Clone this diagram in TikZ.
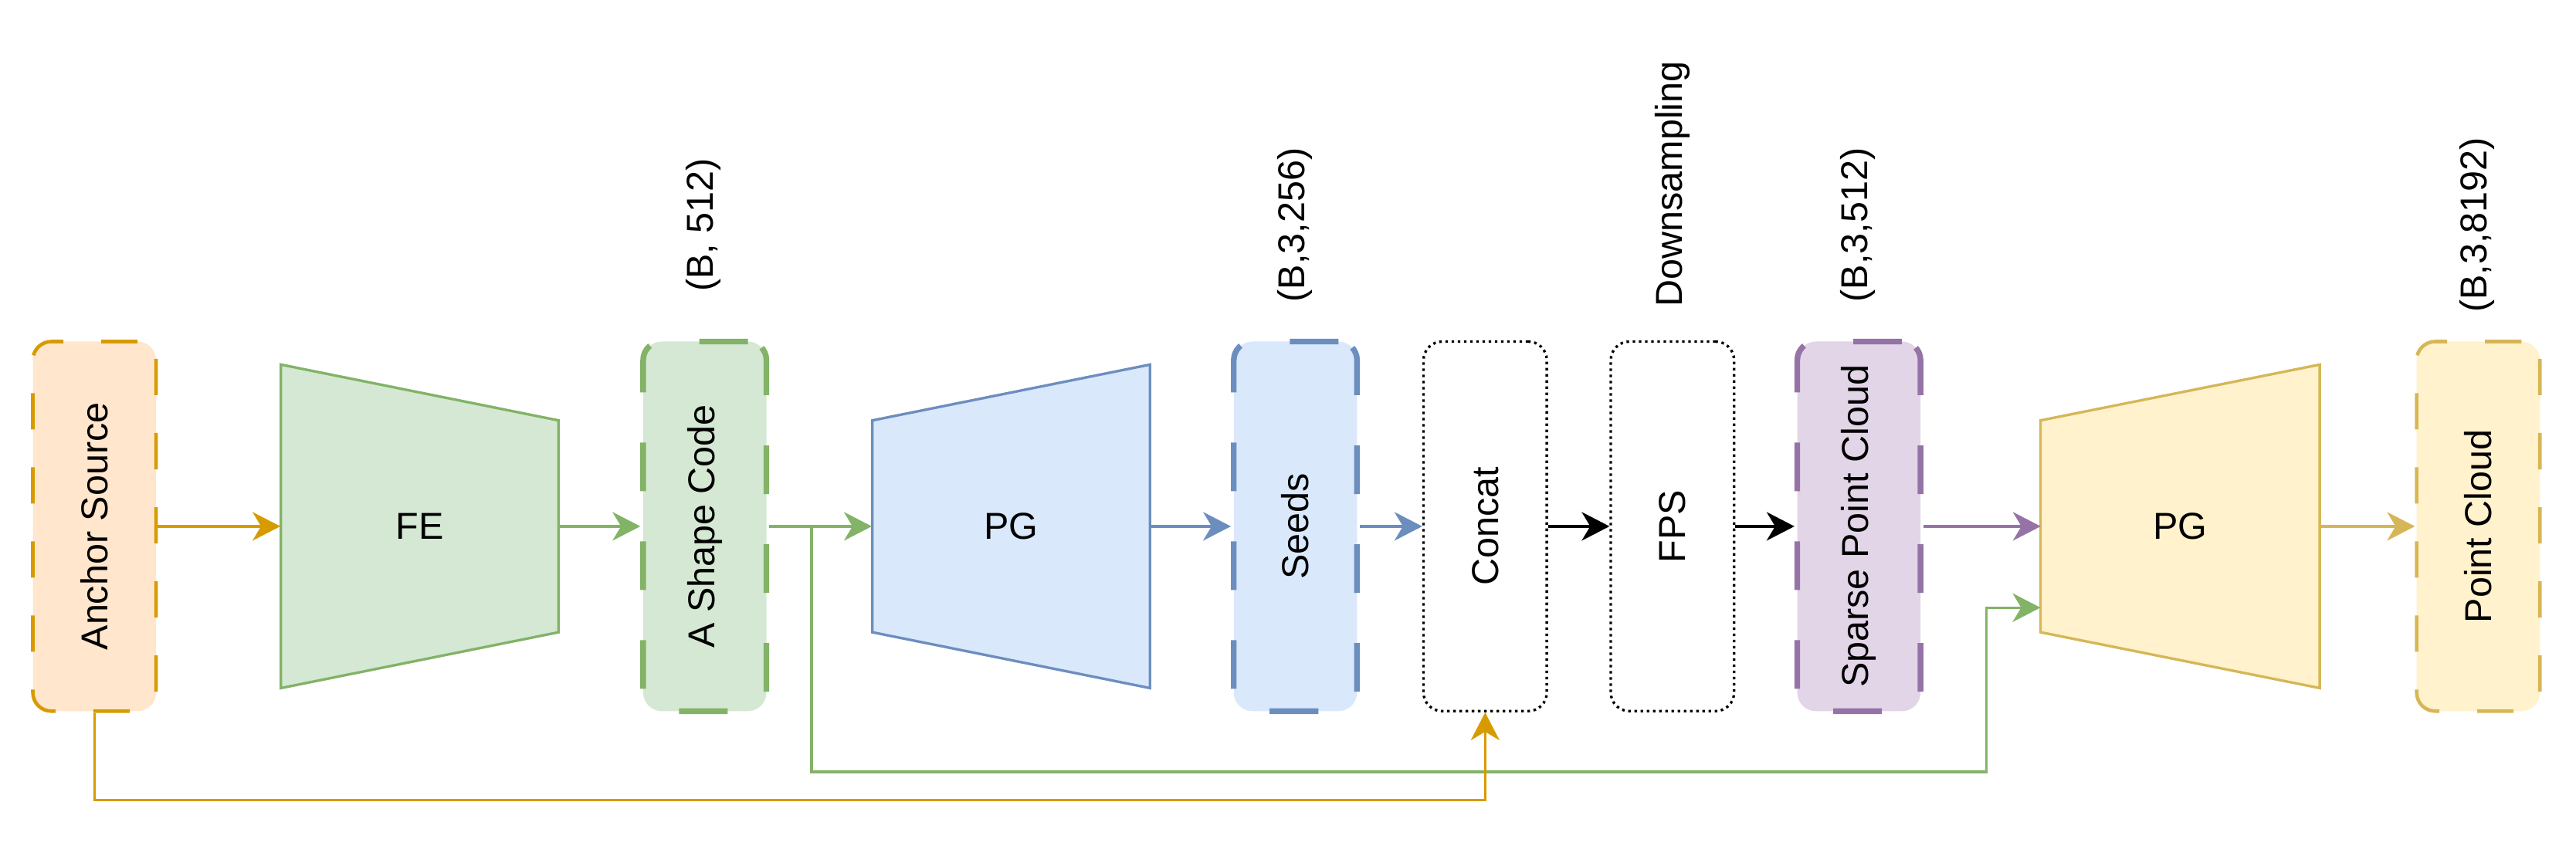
\documentclass[tikz,border=0pt]{standalone}
\usepackage{fontspec}
\usepackage{graphicx}
\setmainfont{Liberation Sans}
\usetikzlibrary{arrows.meta}
\definecolor{orS}{HTML}{D79B00}\definecolor{orF}{HTML}{FFE6CC}
\definecolor{grS}{HTML}{82B366}\definecolor{grF}{HTML}{D5E8D4}
\definecolor{blS}{HTML}{6C8EBF}\definecolor{blF}{HTML}{DAE8FC}
\definecolor{puS}{HTML}{9673A6}\definecolor{puF}{HTML}{E1D5E7}
\definecolor{yeS}{HTML}{D6B656}\definecolor{yeF}{HTML}{FFF2CC}
\begin{document}
\begin{tikzpicture}[x=0.021276cm,y=-0.021276cm,
  every node/.style={font=\fontsize{13.8}{16}\selectfont, inner sep=0pt},
  box/.style={rounded corners=0.24cm, minimum width=1.5957cm, minimum height=4.787cm},
  thinbox/.style={box, line width=1.3pt, dash pattern=on 0.47cm off 0.49cm},
  thickbox/.style={box, line width=2.1pt, dash pattern=on 0.63cm off 0.65cm},
  dotbox/.style={box, draw=black, line width=0.95pt, dash pattern=on 0.033cm off 0.047cm},
  trap/.style={minimum width=3.5957cm, minimum height=2.723cm},
  trapline/.style={line width=0.95pt},
  conn/.style={line width=0.95pt, -{Stealth[length=0.36cm,width=0.37cm,inset=0.11cm]}},
  lbl/.style={rotate=90}
]
\useasboundingbox (0,0) rectangle (1568,521);

% boxes
\node[thinbox, draw=orS, fill=orF] (anchor) at (57.5,320.5) {\rotatebox{90}{Anchor Source}};
\node[thickbox, draw=grS, fill=grF] (shape) at (429,320.5) {\rotatebox{90}{A Shape Code}};
\node[thickbox, draw=blS, fill=blF] (seeds) at (788.5,320.5) {\rotatebox{90}{Seeds}};
\node[dotbox] (concat) at (904,320.5) {\rotatebox{90}{Concat}};
\node[dotbox] (fps) at (1018,320.5) {\rotatebox{90}{FPS}};
\node[thickbox, draw=puS, fill=puF] (sparse) at (1131.5,320.5) {\rotatebox{90}{Sparse Point Cloud}};
\node[thinbox, draw=yeS, fill=yeF] (pc) at (1508.5,320.5) {\rotatebox{90}{Point Cloud}};

% trapezoids
\draw[trapline, draw=grS, fill=grF] (171,222) -- (340,256) -- (340,385) -- (171,419) -- cycle;
\node[trap] (fe) at (255.5,320.5) {FE};
\draw[trapline, draw=blS, fill=blF] (531,256) -- (700,222) -- (700,419) -- (531,385) -- cycle;
\node[trap] (pga) at (615.5,320.5) {PG};
\draw[trapline, draw=yeS, fill=yeF] (1242,256) -- (1412,222) -- (1412,419) -- (1242,385) -- cycle;
\node[trap] (pgb) at (1327,320.5) {PG};

% labels
\node[lbl] (l1) at (428,137) {(B, 512)};
\node[lbl] (l2) at (788,137) {(B,3,256)};
\node[lbl] (l3) at (1018,112) {Downsampling};
\node[lbl] (l4) at (1131,137) {(B,3,512)};
\node[lbl] (l5) at (1508,137) {(B,3,8192)};

% connectors
\coordinate (split) at (494,320.5);
\coordinate (pgbin) at (1242,370);
\draw[conn, orS] (anchor.east) -- (fe.west);
\draw[conn, grS] (fe.east) -- (shape.west);
\draw[conn, grS] (shape.east) -- (pga.west);
\draw[conn, blS] (pga.east) -- (seeds.west);
\draw[conn, blS] (seeds.east) -- (concat.west);
\draw[conn, black] (concat.east) -- (fps.west);
\draw[conn, black] (fps.east) -- (sparse.west);
\draw[conn, puS] (sparse.east) -- (pgb.west);
\draw[conn, yeS] (pgb.east) -- (pc.west);
\draw[conn, grS] (split) -- (494,470) -- (1209,470) -- (1209,370) -- (pgbin);
\draw[conn, orS] (anchor.south) -- ++(0,53) -| (concat.south);
\end{tikzpicture}
\end{document}
